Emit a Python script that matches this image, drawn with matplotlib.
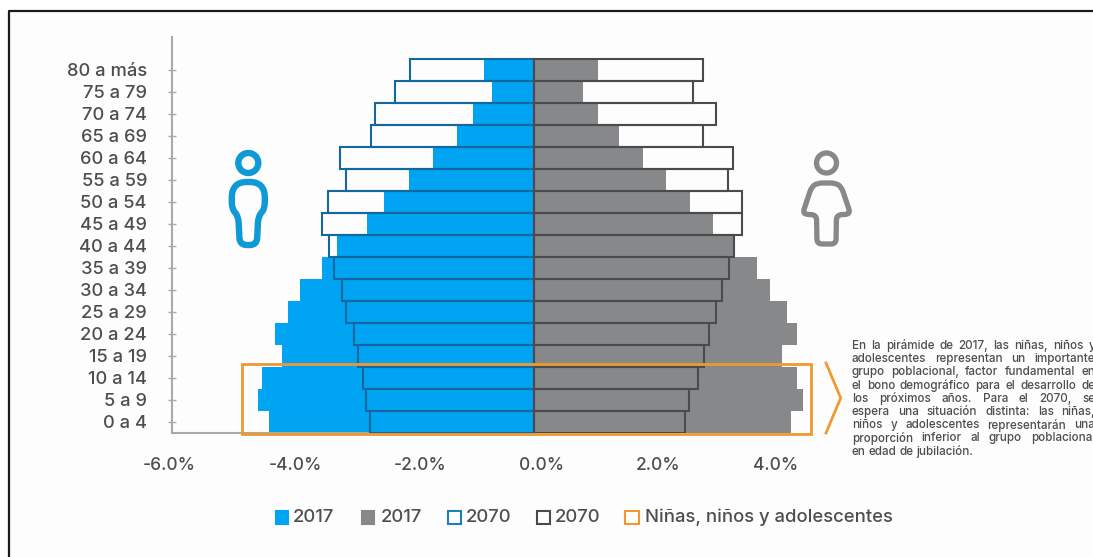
import matplotlib
matplotlib.use("Agg")
import matplotlib.pyplot as plt
import matplotlib.transforms as mtrans
from matplotlib.patches import Rectangle, Ellipse, PathPatch
from matplotlib.path import Path

W, H = 1093, 557
ages = ["80 a más", "75 a 79", "70 a 74", "65 a 69", "60 a 64", "55 a 59", "50 a 54", "45 a 49",
        "40 a 44", "35 a 39", "30 a 34", "25 a 29", "20 a 24", "15 a 19", "10 a 14", "5 a 9", "0 a 4"]
male_2017 = [0.83, 0.70, 1.01, 1.28, 1.68, 2.08, 2.48, 2.77, 3.26, 3.52, 3.88, 4.07, 4.30, 4.18, 4.51, 4.58, 4.40]
female_2017 = [1.06, 0.81, 1.06, 1.41, 1.81, 2.18, 2.58, 2.96, 3.30, 3.69, 3.91, 4.19, 4.36, 4.11, 4.36, 4.46, 4.26]
male_2070 = [2.06, 2.31, 2.64, 2.71, 3.21, 3.11, 3.41, 3.51, 3.39, 3.32, 3.19, 3.11, 2.99, 2.91, 2.84, 2.79, 2.72]
female_2070 = [2.80, 2.63, 3.01, 2.80, 3.30, 3.22, 3.44, 3.44, 3.31, 3.23, 3.11, 3.01, 2.90, 2.82, 2.71, 2.57, 2.50]
x_ticks = [-6, -4, -2, 0, 2, 4]
x_labels = ["-6.0%", "-4.0%", "-2.0%", "0.0%", "2.0%", "4.0%"]
x_label_shift_px = [-3, 3, 7, 7, 3, 0]
legend_items = ["2017", "2017", "2070", "2070", "Niñas, niños y adolescentes"]
note_lines = ["En la pirámide de 2017, las niñas, niños y",
              "adolescentes representan un importante",
              "grupo poblacional, factor fundamental en",
              "el bono demográfico para el desarrollo de",
              "los próximos años. Para el 2070, se",
              "espera una situación distinta: las niñas,",
              "niños y adolescentes representarán una",
              "proporción inferior al grupo poblacional",
              "en edad de jubilación."]

BLUE, GREY, DBLUE, DGREY, ORANGE, TXT = "#00a4f2", "#87888a", "#14689e", "#4a4b4d", "#f0992e", "#4d4e50"
plt.rcParams["font.family"] = ["Inter", "DejaVu Sans"]

fig = plt.figure(figsize=(W / 100, H / 100), dpi=100, facecolor="white")


def px(x, y):
    return (x / W, 1 - y / H)


def rect(x0, y0, x1, y1, **kw):
    fig.add_artist(Rectangle(px(x0, y1), (x1 - x0) / W, (y1 - y0) / H, transform=fig.transFigure, **kw))


# page background and frame
rect(8, 10, W, H, facecolor="#fdfdfd", edgecolor="none", zorder=-5)
xs, ys = zip(px(8.5, H), px(8.5, 10.5), px(W, 10.5))
fig.add_artist(plt.Line2D(xs, ys, color="#1a1a1a", linewidth=1.6, transform=fig.transFigure, zorder=-4))

ax = fig.add_axes([172 / W, 1 - 433 / H, (860 - 172) / W, (433 - 37) / H])
ax.set_xlim(-6, (860 - 534.3) / 60.3)
ax.set_ylim(-0.5, 17.5)
ax.patch.set_alpha(0)
y = [16 - i for i in range(len(ages))]
ax.barh(y, [-v for v in male_2017], height=1, color=BLUE, zorder=2)
ax.barh(y, female_2017, height=1, color=GREY, zorder=2)
ax.barh(y, [-v for v in male_2070], height=1, facecolor="none", edgecolor=DBLUE, linewidth=1.5, zorder=3)
ax.barh(y, female_2070, height=1, facecolor="none", edgecolor=DGREY, linewidth=1.5, zorder=3)

for s in ["top", "right"]:
    ax.spines[s].set_visible(False)
ax.spines["left"].set_color("#a9a9ab")
ax.spines["left"].set_linewidth(1.5)
ax.spines["bottom"].set_color("#a9a9ab")
ax.spines["bottom"].set_linewidth(1.5)
ax.spines["bottom"].set_bounds(-6, 0)
ax.set_yticks(y, ages)
ax.tick_params(axis="y", direction="inout", length=6, width=1, color="#a9a9ab",
               labelsize=13.2, labelcolor=TXT, pad=15)
ax.set_xticks(x_ticks, x_labels)
ax.tick_params(axis="x", length=0, labelsize=12.5, labelcolor=TXT, pad=17)
for lab, dx in zip(ax.get_xticklabels(), x_label_shift_px):
    lab.set_transform(lab.get_transform() + mtrans.ScaledTranslation(dx / 100, 0, fig.dpi_scale_trans))
for lab in ax.get_xticklabels() + ax.get_yticklabels():
    lab.set_fontweight("medium")

# highlight box and chevron
rect(241.7, 364, 810.7, 434, facecolor="none", edgecolor=ORANGE, linewidth=2, zorder=5)
xs, ys = zip(px(826, 363), px(840.7, 398), px(826, 433))
fig.add_artist(plt.Line2D(xs, ys, color=ORANGE, linewidth=2, transform=fig.transFigure))


def rounded(points, r):
    """Closed path through the points with softened corners."""
    n = len(points)
    verts, codes = [], []
    for i in range(n):
        p0, p1, p2 = points[i - 1], points[i], points[(i + 1) % n]
        def toward(a, b):
            d = ((b[0] - a[0]) ** 2 + (b[1] - a[1]) ** 2) ** 0.5
            t = min(r, d / 2) / d
            return (a[0] + (b[0] - a[0]) * t, a[1] + (b[1] - a[1]) * t)
        s, e = toward(p1, p0), toward(p1, p2)
        verts += [s, p1, e]
        codes += [Path.MOVETO if i == 0 else Path.LINETO, Path.CURVE3, Path.CURVE3]
    verts.append(verts[0])
    codes.append(Path.CLOSEPOLY)
    return Path([px(a, b) for a, b in verts], codes)


def person(cx, color, lw, female):
    fig.add_artist(Ellipse(px(cx, 163), 20 / W, 20 / H, transform=fig.transFigure, fill=False,
                           edgecolor=color, linewidth=lw))
    if female:
        pts = [(-9, 183), (9, 183), (15, 187), (24, 214), (10, 215), (9.5, 244), (-9.5, 244), (-10, 215), (-24, 214), (-15, 187)]
        r = 5
    else:
        pts = [(-9, 182), (9, 182), (16.5, 190), (16.5, 209), (10, 216), (8.5, 245), (-8.5, 245), (-10, 216), (-16.5, 209), (-16.5, 190)]
        r = 7
    pts = [(cx + a, b) for a, b in pts]
    fig.add_artist(PathPatch(rounded(pts, r), transform=fig.transFigure, fill=False, edgecolor=color,
                             linewidth=lw, joinstyle="round"))


person(248.3, "#0f9ad6", 4.6, False)
person(826.5, "#87888a", 3.8, True)

# note, justified to the width of the column
note_x0, note_x1 = 852, 1095
note_y, note_dy, note_fs = 346, 13.2, 8.4
fig.canvas.draw()
rend = fig.canvas.get_renderer()
for i, line in enumerate(note_lines):
    words = line.split(" ")
    yy = 1 - (note_y + i * note_dy) / H
    arts = [fig.text(0, yy, w, fontsize=note_fs, color=TXT, va="center", ha="left", fontweight="medium") for w in words]
    widths = [a.get_window_extent(rend).width for a in arts]
    if i < len(note_lines) - 1:
        gap = (note_x1 - note_x0 - sum(widths)) / (len(words) - 1)
    else:
        gap = 3.0
    xx = note_x0
    for a, wd in zip(arts, widths):
        a.set_x(xx / W)
        xx += wd + gap

# legend
mark_x = [(276, 288), (362, 374), (448, 461), (537, 550), (625, 639)]
txt_x = [293, 381, 466, 555, 645]
styles = [(BLUE, BLUE), (GREY, GREY), ("white", "#1f7fb8"), ("white", DGREY), ("white", ORANGE)]
for (x0, x1), tx, label, (fc, ec) in zip(mark_x, txt_x, legend_items, styles):
    rect(x0, 511, x1, 524, facecolor=fc, edgecolor=ec, linewidth=1.5)
    fig.text(tx / W, 1 - 517.5 / H, label, fontsize=13.3, color=TXT, va="center", ha="left", fontweight="medium")

fig.savefig("out.png", dpi=100)
